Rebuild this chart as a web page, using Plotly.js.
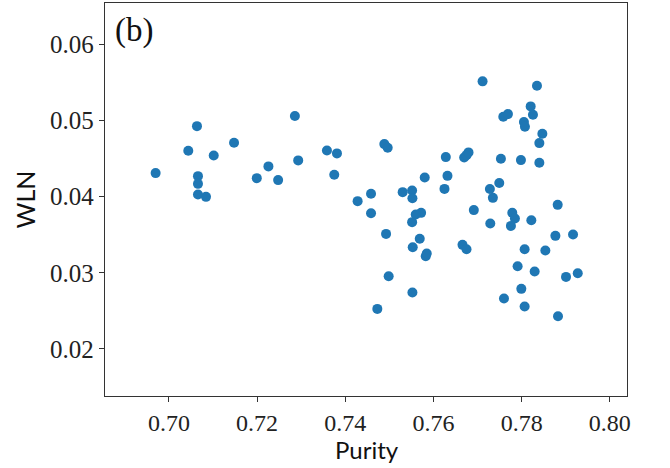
<!DOCTYPE html>
<html><head><meta charset="utf-8">
<script src="https://cdn.plot.ly/plotly-3.0.1.min.js"></script>
<style>html,body{margin:0;padding:0;background:#fff}#chart{width:670px;height:468px}</style>
</head><body><div id="chart"></div>
<script>
const purity = [
0.69698,0.70636,0.70439,0.71016,0.71477,0.72857,0.72932,0.72257,0.71993,0.72477,
0.70659,0.70659,0.70659,0.70841,0.73584,0.73811,0.7375,0.74886,0.74962,0.7628,
0.76697,0.7675,0.76795,0.76318,0.75802,0.7625,0.75302,0.75516,0.75523,0.74584,
0.7428,0.74584,0.7572,0.75598,0.75516,0.76916,0.74925,0.75689,0.7553,0.75825,
0.75848,0.76659,0.7675,0.74984,0.75523,0.74727,0.77114,0.78348,0.78205,0.78257,
0.77584,0.7769,0.78052,0.78075,0.7847,0.78402,0.7753,0.77984,0.78402,0.77493,
0.7728,0.77348,0.78818,0.77788,0.77848,0.77757,0.77289,0.7822,0.78766,0.79166,
0.78068,0.78538,0.77909,0.78295,0.79007,0.79273,0.77993,0.776,0.78068,0.78825];
const wln = [
0.04309,0.04926,0.04602,0.04541,0.04707,0.05058,0.04476,0.04397,0.04243,0.04217,
0.04269,0.04168,0.04029,0.03997,0.04607,0.04568,0.04287,0.0469,0.04641,0.04519,
0.04515,0.04545,0.04581,0.04273,0.04252,0.04102,0.04059,0.04081,0.0398,0.04037,
0.03941,0.03783,0.03787,0.03766,0.03665,0.03823,0.03511,0.03446,0.03336,0.03218,
0.03254,0.03367,0.0331,0.02955,0.02741,0.02526,0.05514,0.05456,0.05185,0.05075,
0.05049,0.05084,0.04979,0.04917,0.04825,0.04703,0.04497,0.0448,0.04444,0.0418,
0.04101,0.03984,0.03892,0.03787,0.03713,0.03616,0.03648,0.03691,0.03485,0.03503,
0.0331,0.03293,0.03087,0.03017,0.02946,0.02995,0.02789,0.02662,0.02557,0.0243];
const xTicks = [0.70,0.72,0.74,0.76,0.78,0.80];
const xTickText = ["0.70","0.72","0.74","0.76","0.78","0.80"];
const yTicks = [0.02,0.03,0.04,0.05,0.06];
const yTickText = ["0.02","0.03","0.04","0.05","0.06"];
const panelLabel = "(b)";
const xTitle = "Purity";
const yTitle = "WLN";

const serif = "Liberation Serif";
const sans = "Lato";
Plotly.newPlot("chart", [{
  type: "scatter", mode: "markers", x: purity, y: wln,
  marker: {color: "#1f77b4", size: 10, line: {width: 0}},
  hoverinfo: "skip"
}], {
  width: 670, height: 468,
  font: {family: serif, size: 24, color: "#222"},
  margin: {l: 105, r: 43, t: 3, b: 72},
  paper_bgcolor: "#fff", plot_bgcolor: "#fff",
  showlegend: false,
  xaxis: {
    range: [0.6855, 0.8039], tickmode: "array", tickvals: xTicks, ticktext: xTickText,
    showgrid: false, zeroline: false, showline: true, mirror: true,
    linecolor: "#333", linewidth: 1.2, ticks: "outside", ticklen: 5, tickcolor: "#333",
    tickfont: {family: serif, size: 24, color: "#222"}
  },
  yaxis: {
    range: [0.01382, 0.06543], tickmode: "array", tickvals: yTicks, ticktext: yTickText,
    showgrid: false, zeroline: false, showline: true, mirror: true,
    linecolor: "#333", linewidth: 1.2, ticks: "outside", ticklen: 5, tickcolor: "#333",
    tickfont: {family: serif, size: 25, color: "#222"},
    title: {text: yTitle, font: {family: sans, size: 25, color: "#111"}, standoff: 7}
  },
  annotations: [{
    text: panelLabel, xref: "paper", yref: "paper", x: 0.0153, y: 0.9822,
    xanchor: "left", yanchor: "top", showarrow: false,
    font: {family: serif, size: 33, color: "#111"}
  }, {
    text: xTitle, xref: "paper", yref: "paper", x: 0.502, y: -0.137,
    xanchor: "center", yanchor: "middle", showarrow: false,
    font: {family: sans, size: 24, color: "#111"}
  }]
}, {displayModeBar: false, staticPlot: true});
</script></body></html>
